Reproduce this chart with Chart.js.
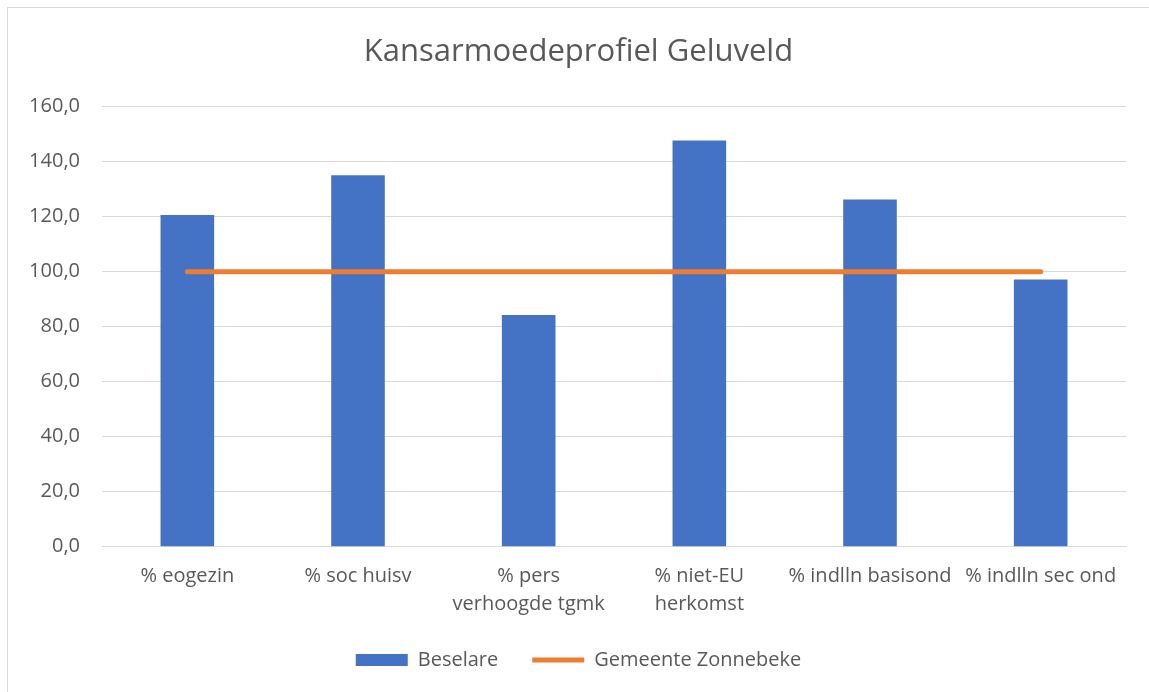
<!DOCTYPE html>
<html>
<head>
<meta charset="utf-8">
<script src="https://cdn.jsdelivr.net/npm/chart.js@4/dist/chart.umd.min.js"></script>
<style>
  html, body { margin: 0; padding: 0; background: #fff; overflow: hidden; width: 1149px; height: 692px; }
  #wrap { position: absolute; left: 7px; top: 7px; width: 1160px; height: 720px; border-left: 1px solid #d9d9d9; border-top: 1px solid #d9d9d9; background: #fff; }
  canvas { display: block; }
</style>
</head>
<body>
<div id="wrap"><canvas id="c" width="1141" height="672"></canvas></div>
<script>
const chartTitle = 'Kansarmoedeprofiel Geluveld';
const categories = ['% eogezin', '% soc huisv', ['% pers', 'verhoogde tgmk'], ['% niet-EU', 'herkomst'], '% indlln basisond', '% indlln sec ond'];
const barLabel = 'Beselare';
const barValues = [120.6, 135.1, 84.3, 147.7, 126.3, 97.2];
const lineLabel = 'Gemeente Zonnebeke';
const lineValues = [100, 100, 100, 100, 100, 100];
const yMin = 0, yMax = 160, yStep = 20;

const FONT = "'Open Sans', sans-serif";
const TXT = '#595959';

new Chart(document.getElementById('c'), {
  data: {
    labels: categories,
    datasets: [
      {
        type: 'line', label: lineLabel, data: lineValues,
        borderColor: '#ED7D31', backgroundColor: '#ED7D31', borderWidth: 5,
        borderCapStyle: 'round', pointRadius: 0, pointHoverRadius: 0,
        pointStyle: 'line', order: 0
      },
      {
        type: 'bar', label: barLabel, data: barValues,
        backgroundColor: '#4472C4', borderWidth: 0,
        categoryPercentage: 1.0, barPercentage: 0.314,
        pointStyle: 'rect', order: 1
      }
    ]
  },
  options: {
    responsive: false, animation: false,
    layout: { padding: { left: 0, right: 0, top: 0, bottom: 0 } },
    plugins: {
      title: { display: true, text: chartTitle, color: TXT, font: { family: FONT, size: 31, weight: 'normal', lineHeight: 1.2 }, padding: { top: 26, bottom: 35.5 } },
      legend: {
        position: 'bottom',
        reverse: true,
        labels: {
          color: TXT, font: { family: FONT, size: 20 },
          usePointStyle: true, pointStyleWidth: 52, boxHeight: 12, padding: 34
        }
      },
      tooltip: { enabled: false }
    },
    scales: {
      x: {
        grid: { display: false, drawTicks: false },
        border: { display: true, color: '#d9d9d9', width: 1 },
        ticks: { color: TXT, font: { family: FONT, size: 20, lineHeight: 1.4 }, maxRotation: 0, autoSkip: false, padding: 16 },
        afterFit: (s) => { s.height = 69.3; }
      },
      y: {
        min: yMin, max: yMax,
        grid: { color: '#d9d9d9', lineWidth: 1, drawTicks: false },
        border: { display: false },
        ticks: { stepSize: yStep, color: TXT, font: { family: FONT, size: 20 }, padding: 22,
          callback: (v) => v.toFixed(1).replace('.', ',') },
        afterFit: (s) => { s.width = 94; }
      },
      yRight: {
        position: 'right', display: true, min: yMin, max: yMax,
        grid: { display: false, drawTicks: false },
        border: { display: false },
        ticks: { display: false },
        afterFit: (s) => { s.width = 23; }
      }
    }
  }
});
</script>
</body>
</html>
